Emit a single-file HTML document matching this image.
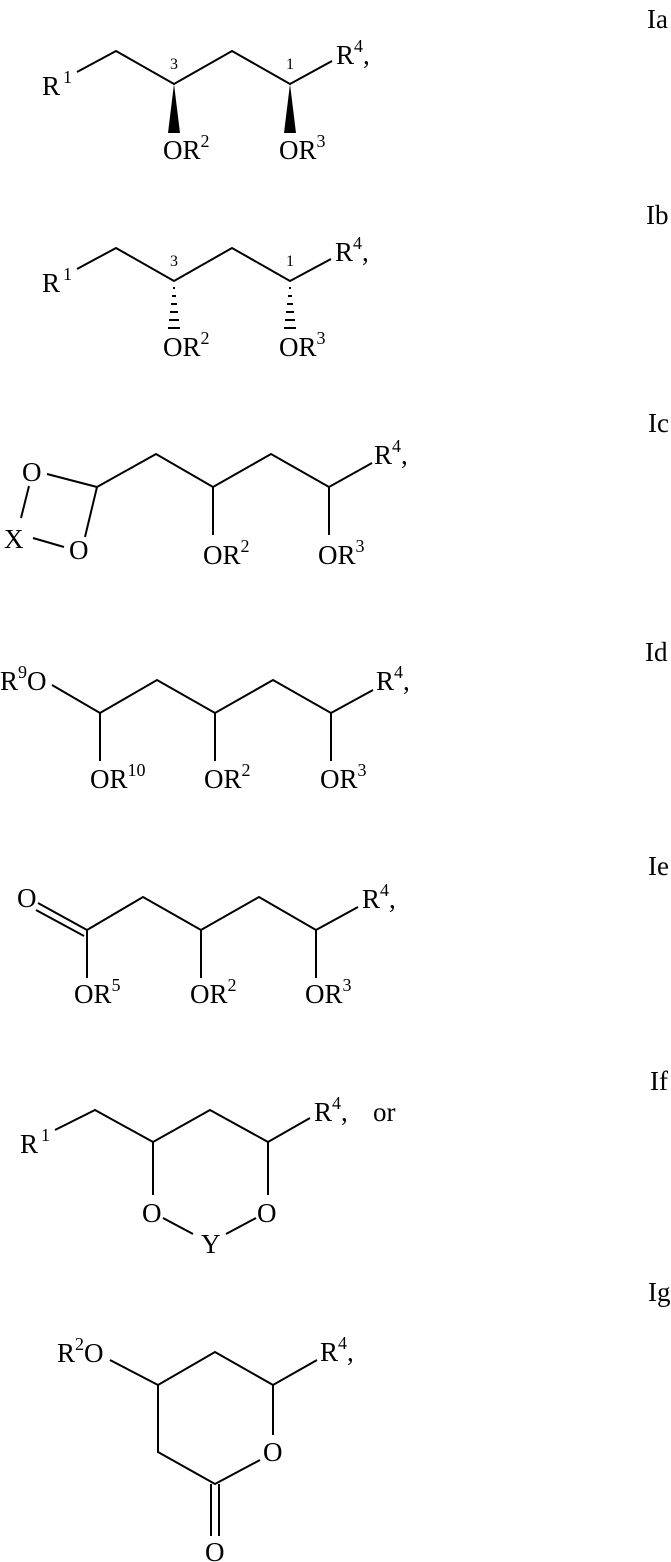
<!DOCTYPE html>
<html><head><meta charset="utf-8"><style>
html,body{margin:0;padding:0;background:#fff;}
svg{display:block;}
text{font-family:"Liberation Serif",serif;fill:#000;}
.t{font-size:27px;}
.s{font-size:18px;}
.n{font-size:16px;}
</style></head><body>
<svg width="671" height="1562" viewBox="0 0 671 1562" xmlns="http://www.w3.org/2000/svg">
<g stroke="#000" stroke-width="2" fill="none">
<polyline points="77,72 116,51 174,84 232,51 290,84 332,61"/>
<polyline points="77,269 116,248 174,281 232,248 290,281 331,259"/>
<polyline points="97,487 156,454 213,487 271,454 329,487 372,463"/>
<line x1="47" y1="474" x2="97" y2="487"/>
<line x1="97" y1="487" x2="85" y2="537"/>
<line x1="29" y1="486" x2="21" y2="518"/>
<line x1="33" y1="538" x2="64" y2="547"/>
<line x1="213" y1="487" x2="213" y2="535"/>
<line x1="329" y1="487" x2="329" y2="535"/>
<polyline points="52,685 100,713 157,680 215,713 273,680 331,713 373,690"/>
<line x1="100" y1="713" x2="100" y2="761"/>
<line x1="215" y1="713" x2="215" y2="761"/>
<line x1="331" y1="713" x2="331" y2="761"/>
<polyline points="87,930 143,897 201,930 259,897 316,930 358,907"/>
<line x1="38" y1="903" x2="87" y2="930"/>
<line x1="36" y1="910" x2="84" y2="936"/>
<line x1="87" y1="930" x2="87" y2="978"/>
<line x1="201" y1="930" x2="201" y2="978"/>
<line x1="316" y1="930" x2="316" y2="978"/>
<polyline points="55,1130 95,1110 153,1142 210,1110 268,1142 310,1118"/>
<line x1="153" y1="1142" x2="153" y2="1195"/>
<line x1="268" y1="1142" x2="268" y2="1195"/>
<line x1="163" y1="1218" x2="193" y2="1234"/>
<line x1="226" y1="1234" x2="256" y2="1218"/>
<polyline points="110,1360 158,1385 215,1352 273,1385 317,1360"/>
<polyline points="158,1385 158,1452 215,1484 260,1460"/>
<line x1="273" y1="1385" x2="273" y2="1435"/>
<line x1="211" y1="1484" x2="211" y2="1536"/>
<line x1="219" y1="1484" x2="219" y2="1536"/>
</g>
<polygon points="174,84 168,133 180,133" fill="#000"/>
<polygon points="290,84 284,133 296,133" fill="#000"/>
<g stroke="#000" stroke-width="2">
<line x1="173" y1="288" x2="175" y2="288"/><line x1="172" y1="296" x2="176" y2="296"/><line x1="171" y1="304" x2="177" y2="304"/><line x1="170" y1="312" x2="178" y2="312"/><line x1="169" y1="320" x2="179" y2="320"/><line x1="168" y1="328" x2="180" y2="328"/>
<line x1="289" y1="288" x2="291" y2="288"/><line x1="288" y1="296" x2="292" y2="296"/><line x1="287" y1="304" x2="293" y2="304"/><line x1="286" y1="312" x2="294" y2="312"/><line x1="285" y1="320" x2="295" y2="320"/><line x1="284" y1="328" x2="296" y2="328"/>
</g>
<text class="t" x="42" y="95">R<tspan class="s" dx="3" dy="-12">1</tspan></text>
<text class="n" x="170" y="69">3</text>
<text class="n" x="286" y="69">1</text>
<text class="t" x="336" y="64">R<tspan class="s" dy="-12">4</tspan><tspan dy="12">,</tspan></text>
<text class="t" x="163" y="159">OR<tspan class="s" dy="-12">2</tspan></text>
<text class="t" x="279" y="159">OR<tspan class="s" dy="-12">3</tspan></text>
<text class="t" x="42" y="292">R<tspan class="s" dx="3" dy="-12">1</tspan></text>
<text class="n" x="170" y="266">3</text>
<text class="n" x="286" y="266">1</text>
<text class="t" x="335" y="261">R<tspan class="s" dy="-12">4</tspan><tspan dy="12">,</tspan></text>
<text class="t" x="163" y="356">OR<tspan class="s" dy="-12">2</tspan></text>
<text class="t" x="279" y="356">OR<tspan class="s" dy="-12">3</tspan></text>
<text class="t" x="22" y="481">O</text>
<text class="t" x="4" y="548">X</text>
<text class="t" x="69" y="559">O</text>
<text class="t" x="374" y="464">R<tspan class="s" dy="-12">4</tspan><tspan dy="12">,</tspan></text>
<text class="t" x="203" y="564">OR<tspan class="s" dy="-12">2</tspan></text>
<text class="t" x="318" y="564">OR<tspan class="s" dy="-12">3</tspan></text>
<text class="t" x="0" y="690">R<tspan class="s" dy="-12">9</tspan><tspan dy="12">O</tspan></text>
<text class="t" x="376" y="690">R<tspan class="s" dy="-12">4</tspan><tspan dy="12">,</tspan></text>
<text class="t" x="90" y="788">OR<tspan class="s" dy="-12">10</tspan></text>
<text class="t" x="204" y="788">OR<tspan class="s" dy="-12">2</tspan></text>
<text class="t" x="320" y="788">OR<tspan class="s" dy="-12">3</tspan></text>
<text class="t" x="17" y="907">O</text>
<text class="t" x="362" y="908">R<tspan class="s" dy="-12">4</tspan><tspan dy="12">,</tspan></text>
<text class="t" x="74" y="1003">OR<tspan class="s" dy="-12">5</tspan></text>
<text class="t" x="190" y="1003">OR<tspan class="s" dy="-12">2</tspan></text>
<text class="t" x="305" y="1003">OR<tspan class="s" dy="-12">3</tspan></text>
<text class="t" x="20" y="1153">R<tspan class="s" dx="3" dy="-12">1</tspan></text>
<text class="t" x="314" y="1121">R<tspan class="s" dy="-12">4</tspan><tspan dy="12">,</tspan></text>
<text class="t" x="373" y="1121">or</text>
<text class="t" x="142" y="1222">O</text>
<text class="t" x="257" y="1222">O</text>
<text class="t" x="201" y="1253">Y</text>
<text class="t" x="57" y="1362">R<tspan class="s" dy="-12">2</tspan><tspan dy="12">O</tspan></text>
<text class="t" x="320" y="1361">R<tspan class="s" dy="-12">4</tspan><tspan dy="12">,</tspan></text>
<text class="t" x="263" y="1461">O</text>
<text class="t" x="205" y="1561">O</text>
<text class="t" x="647" y="28">Ia</text>
<text class="t" x="646" y="224">Ib</text>
<text class="t" x="648" y="432">Ic</text>
<text class="t" x="645" y="661">Id</text>
<text class="t" x="648" y="875">Ie</text>
<text class="t" x="650" y="1090">If</text>
<text class="t" x="648" y="1301">Ig</text>
</svg>
</body></html>
